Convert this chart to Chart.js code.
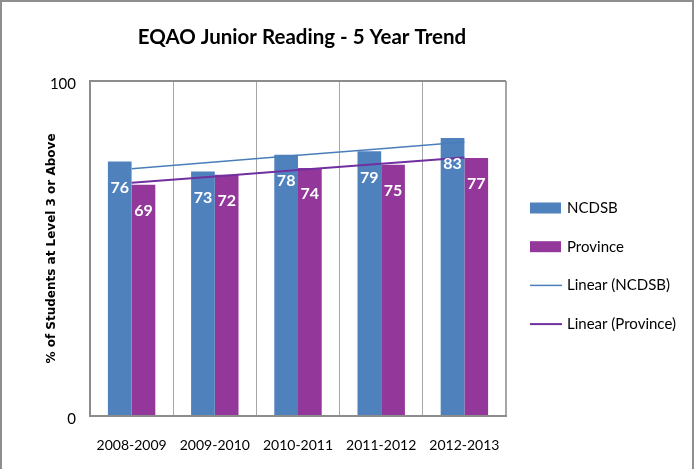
<!DOCTYPE html>
<html>
<head>
<meta charset="utf-8">
<script src="https://cdn.jsdelivr.net/npm/chart.js@4.4.0/dist/chart.umd.min.js"></script>
<style>
    html, body { margin: 0; padding: 0; background: #fff; }
    #frame {
        position: absolute; left: 0; top: 0;
        width: 690px; height: 467px;
        border: 2px solid #8e8e8e; border-bottom: none;
    }
    canvas { display: block; }
</style>
</head>
<body>
<div id="frame"><canvas id="reading-chart" width="690" height="467"></canvas></div>
<script>
const years = ['2008-2009', '2009-2010', '2010-2011', '2011-2012', '2012-2013'];
const ncdsb = [76, 73, 78, 79, 83];
const province = [69, 72, 74, 75, 77];
// linear trend lines
const ncdsbTrend = [73.8, 75.8, 77.8, 79.8, 81.8];
const provinceTrend = [69.6, 71.5, 73.4, 75.3, 77.2];

const face = "Lato, 'Liberation Sans', sans-serif";

// titulo dibujado a mano, centrado sobre el area del grafico
const chartTitle = {
    id: 'chartTitle',
    afterDraw(chart) {
        const ctx = chart.ctx;
        const area = chart.chartArea;
        ctx.save();
        ctx.fillStyle = '#000';
        ctx.font = 'bold 20.5px ' + face;
        ctx.textAlign = 'center';
        ctx.textBaseline = 'middle';
        ctx.fillText('EQAO Junior Reading - 5 Year Trend', (area.left + area.right) / 2 + 4, 35);
        ctx.restore();
    }
};

// etiquetas blancas dentro de las barras
const barLabels = {
    id: 'barLabels',
    afterDatasetsDraw(chart) {
        const ctx = chart.ctx;
        ctx.save();
        ctx.fillStyle = '#fff';
        ctx.font = 'bold 16px ' + face;
        ctx.textAlign = 'center';
        ctx.textBaseline = 'middle';
        chart.data.datasets.forEach((ds, i) => {
            if (ds.type !== 'bar') return;
            chart.getDatasetMeta(i).data.forEach((bar, j) => {
                ctx.fillText(ds.data[j], bar.x, bar.y + 26);
            });
        });
        ctx.restore();
    }
};

// leyenda a la derecha: rectangulos para barras, lineas para tendencias
const sideLegend = {
    id: 'sideLegend',
    afterDraw(chart) {
        const ctx = chart.ctx;
        const x = chart.chartArea.right + 24;
        ctx.save();
        ctx.font = '15px ' + face;
        ctx.textBaseline = 'middle';
        chart.data.datasets.forEach((ds, i) => {
            const y = 206 + i * 38.7;
            if (ds.type === 'bar') {
                ctx.fillStyle = ds.backgroundColor;
                ctx.fillRect(x, y - 5.5, 31, 11);
            } else {
                ctx.strokeStyle = ds.borderColor;
                ctx.lineWidth = ds.borderWidth;
                ctx.beginPath();
                ctx.moveTo(x, y);
                ctx.lineTo(x + 32, y);
                ctx.stroke();
            }
            ctx.fillStyle = '#000';
            ctx.fillText(ds.label, x + 37, y);
        });
        ctx.restore();
    }
};

window.readingChart = new Chart(
    document.getElementById('reading-chart'),
    {
        data: {
            labels: years,
            datasets: [
                {
                    type: 'bar',
                    label: 'NCDSB',
                    data: ncdsb,
                    backgroundColor: '#4F81BD',
                    borderWidth: 0,
                    categoryPercentage: 0.57,
                    barPercentage: 1,
                    order: 1,
                },
                {
                    type: 'bar',
                    label: 'Province',
                    data: province,
                    backgroundColor: '#93379A',
                    borderWidth: 0,
                    categoryPercentage: 0.57,
                    barPercentage: 1,
                    order: 1,
                },
                {
                    type: 'line',
                    label: 'Linear (NCDSB)',
                    data: ncdsbTrend,
                    borderColor: '#4A7EBB',
                    borderWidth: 1.5,
                    pointRadius: 0,
                    fill: false,
                    order: 0,
                },
                {
                    type: 'line',
                    label: 'Linear (Province)',
                    data: provinceTrend,
                    borderColor: '#7030A0',
                    borderWidth: 2,
                    pointRadius: 0,
                    fill: false,
                    order: 0,
                },
            ]
        },
        options: {
            responsive: false,
            animation: false,
            layout: {
                padding: { top: 79, left: 41, right: 186, bottom: 0 }
            },
            plugins: {
                legend: { display: false },
                tooltip: { enabled: false },
            },
            scales: {
                x: {
                    afterFit: (scale) => { scale.height = 53; },
                    grid: {
                        offset: true,
                        color: '#a6a6a6',
                        lineWidth: (c) => c.tick ? 1 : 2,
                        drawTicks: false,
                    },
                    border: { color: '#8c8c8c', width: 2 },
                    ticks: {
                        color: '#000',
                        padding: 21,
                        maxRotation: 0,
                        autoSkip: false,
                        font: { size: 14, family: face },
                    }
                },
                y: {
                    min: 0,
                    max: 100,
                    afterFit: (scale) => { scale.width = 47; },
                    grid: { color: '#8c8c8c', lineWidth: 2, drawTicks: false },
                    border: { color: '#8c8c8c', width: 2 },
                    ticks: {
                        stepSize: 100,
                        padding: 14,
                        labelOffset: 3,
                        color: '#000',
                        font: { size: 15, family: face },
                    },
                    title: {
                        display: true,
                        text: '% of Students at Level 3 or Above',
                        color: '#000',
                        padding: { top: 2, bottom: 0 },
                        font: { size: 12, weight: 'bold', family: 'DejaVu Sans' },
                    }
                }
            }
        },
        plugins: [chartTitle, barLabels, sideLegend],
    }
);
</script>
</body>
</html>
